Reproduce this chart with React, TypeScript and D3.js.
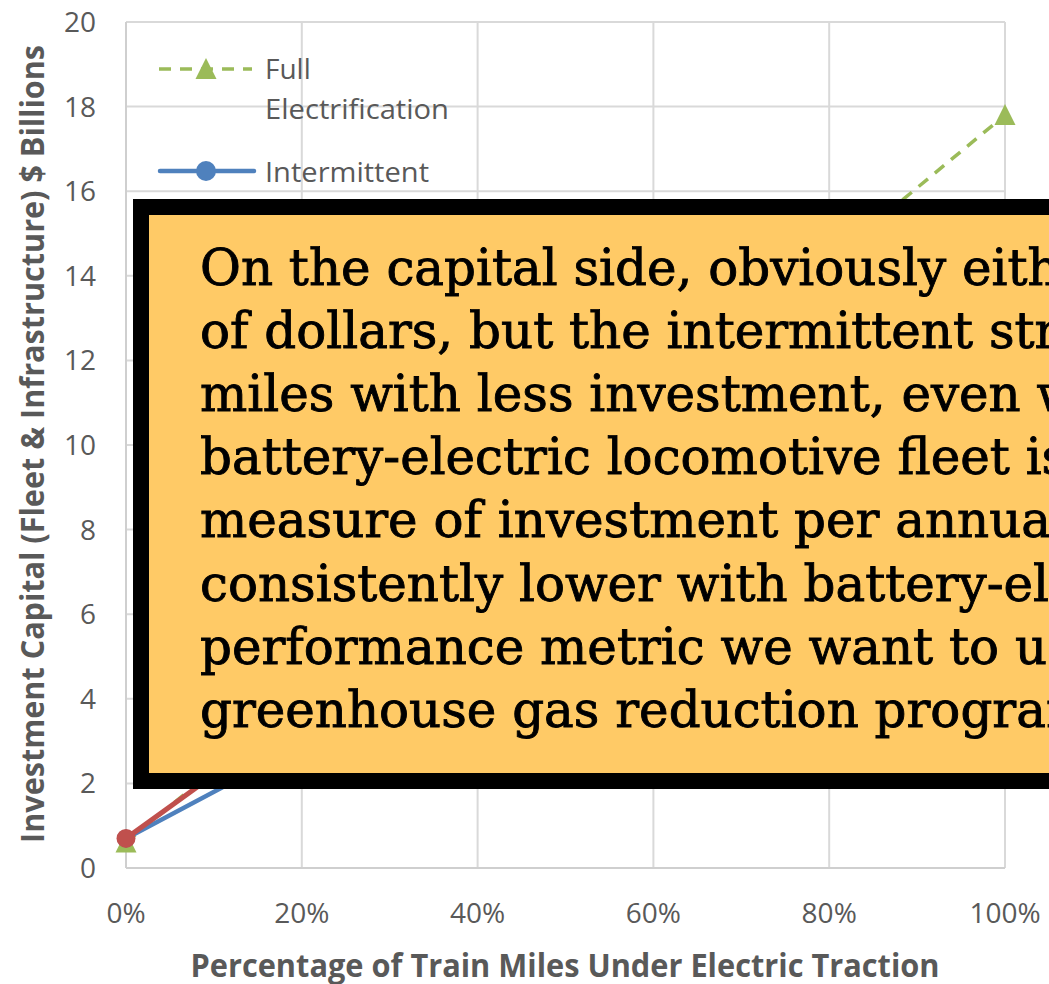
import React from 'react';
import * as d3 from 'd3';

// ---------- data ----------
const xTickValues = [0, 20, 40, 60, 80, 100];
const yTickValues = [0, 2, 4, 6, 8, 10, 12, 14, 16, 18, 20];

const fullPct = [0, 100];
const fullCapital = [0.6, 17.8];

const intermittentPct = [0, 20, 40, 60, 80, 100];
const intermittentCapital = [0.7, 2.9, 4.6, 6.0, 7.2, 8.3];

const batteryPct = [0, 10, 20, 40, 60, 80, 100];
const batteryCapital = [0.7, 2.2, 3.6, 6.2, 8.6, 10.8, 12.9];

const calloutLines = [
  'On the capital side, obviously either strategy',
  'of dollars, but the intermittent strategy',
  'miles with less investment, even with',
  'battery-electric locomotive fleet is',
  'measure of investment per annual',
  'consistently lower with battery-electric',
  'performance metric we want to use',
  'greenhouse gas reduction program',
];

const xTitle = 'Percentage of Train Miles Under Electric Traction';
const yTitle = 'Investment Capital (Fleet & Infrastructure) $ Billions';

const W = 1049;
const H = 984;
const GREEN = '#9BBB59';
const BLUE = '#4F81BD';
const RED = '#C0504D';
const GRID = '#D9D9D9';
const TXT = '#595959';
const CALLOUT_FONT = "'DejaVu Serif', serif";

function fitFontSize(text: string, target: number): number {
  try {
    const c = document.createElement('canvas').getContext('2d');
    if (!c) return 42;
    c.font = `40px ${CALLOUT_FONT}`;
    const w = c.measureText(text).width;
    return (40 * target) / w;
  } catch (e) {
    return 42;
  }
}

export default function App() {
  const x = d3.scaleLinear().domain([0, 100]).range([126, 1005]);
  const y = d3.scaleLinear().domain([0, 20]).range([868, 22]);

  const line = d3
    .line<[number, number]>()
    .x((d) => x(d[0]))
    .y((d) => y(d[1]));

  const full: [number, number][] = fullPct.map((p, i) => [p, fullCapital[i]]);
  const inter: [number, number][] = intermittentPct.map((p, i) => [p, intermittentCapital[i]]);
  const batt: [number, number][] = batteryPct.map((p, i) => [p, batteryCapital[i]]);

  const tri = (cx: number, cy: number) =>
    `M${cx},${cy - 11}L${cx + 10.5},${cy + 10}L${cx - 10.5},${cy + 10}Z`;

  const calloutSize = fitFontSize('On the capital side, obviously eith', 860);

  return (
    <svg
      width={W}
      height={H}
      style={{ position: 'absolute', left: 0, top: 0, display: 'block', background: '#fff' }}
    >
      <rect x={0} y={0} width={W} height={H} fill="#fff" />
      {/* grid */}
      {yTickValues.map((t) => (
        <line key={'gy' + t} x1={x(0)} x2={x(100)} y1={y(t)} y2={y(t)} stroke={GRID} strokeWidth={2} />
      ))}
      {xTickValues.map((t) => (
        <line key={'gx' + t} x1={x(t)} x2={x(t)} y1={y(0)} y2={y(20)} stroke={GRID} strokeWidth={2} />
      ))}
      <line x1={x(0)} x2={x(0)} y1={y(0)} y2={y(20)} stroke="#CFCFCF" strokeWidth={2} />
      <line x1={x(0)} x2={x(100)} y1={y(0)} y2={y(0)} stroke="#CFCFCF" strokeWidth={2} />

      {/* y ticks */}
      {yTickValues.map((t) => (
        <text
          key={'ty' + t}
          x={96}
          y={y(t) + 10}
          textAnchor="end"
          fontFamily="'Open Sans', sans-serif"
          fontSize={28}
          fill={TXT}
        >
          {t}
        </text>
      ))}
      {/* x ticks */}
      {xTickValues.map((t) => (
        <text
          key={'tx' + t}
          x={x(t)}
          y={923}
          textAnchor="middle"
          fontFamily="'Open Sans', sans-serif"
          fontSize={28}
          fill={TXT}
        >
          {t + '%'}
        </text>
      ))}

      {/* axis titles */}
      <text
        x={565}
        y={977}
        textAnchor="middle"
        fontFamily="'Open Sans', sans-serif"
        fontWeight={700}
        fontSize={33}
        fill={TXT}
        textLength={749}
        lengthAdjust="spacingAndGlyphs"
      >
        {xTitle}
      </text>
      <text
        transform={`translate(44,444) rotate(-90)`}
        textAnchor="middle"
        fontFamily="'Open Sans', sans-serif"
        fontWeight={700}
        fontSize={33}
        fill={TXT}
        textLength={798}
        lengthAdjust="spacingAndGlyphs"
      >
        {yTitle}
      </text>

      {/* series */}
      <path d={line(full) || ''} fill="none" stroke={GREEN} strokeWidth={3.5} strokeDasharray="12 9" />
      {full.map((d, i) => (
        <path key={'ft' + i} d={tri(x(d[0]), y(d[1]))} fill={GREEN} />
      ))}
      <path d={line(inter) || ''} fill="none" stroke={BLUE} strokeWidth={4.5} strokeLinejoin="round" />
      {inter.map((d, i) => (
        <circle key={'ic' + i} cx={x(d[0])} cy={y(d[1])} r={9} fill={BLUE} />
      ))}
      <path d={line(batt) || ''} fill="none" stroke={RED} strokeWidth={5} strokeLinejoin="round" />
      {batt.map((d, i) => (
        <circle key={'bc' + i} cx={x(d[0])} cy={y(d[1])} r={9.5} fill={RED} />
      ))}

      {/* legend */}
      <line x1={159} x2={252} y1={69} y2={69} stroke={GREEN} strokeWidth={3.5} strokeDasharray="12 9" />
      <path d={tri(206, 69)} fill={GREEN} />
      <text x={265} y={79} fontFamily="'Open Sans', sans-serif" fontSize={28} fill={TXT}>
        Full
      </text>
      <text x={265} y={119} fontFamily="'Open Sans', sans-serif" fontSize={28} fill={TXT} textLength={184} lengthAdjust="spacingAndGlyphs">
        Electrification
      </text>
      <line x1={160} x2={254} y1={171} y2={171} stroke={BLUE} strokeWidth={4.5} strokeLinecap="round" />
      <circle cx={206} cy={171} r={10} fill={BLUE} />
      <text x={265} y={182} fontFamily="'Open Sans', sans-serif" fontSize={28} fill={TXT} textLength={164} lengthAdjust="spacingAndGlyphs">
        Intermittent
      </text>

      {/* callout box */}
      <rect x={141} y={207} width={1000} height={574} fill="#FFCA66" stroke="#000" strokeWidth={16} />
      {calloutLines.map((s, i) => (
        <text
          key={'cl' + i}
          x={200}
          y={285 + i * 63.1}
          fontFamily={CALLOUT_FONT}
          fontSize={calloutSize}
          fill="#000"
          stroke="#000"
          strokeWidth={0.9}
        >
          {s}
        </text>
      ))}
    </svg>
  );
}
